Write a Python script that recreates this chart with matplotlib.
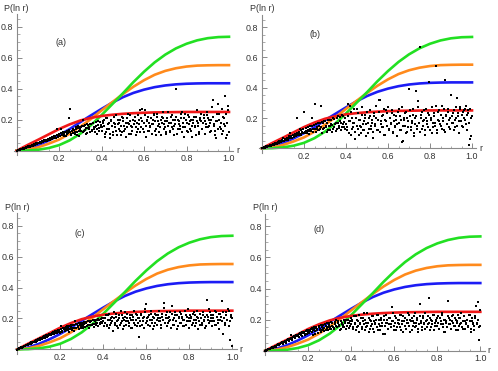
import matplotlib
matplotlib.use("Agg")
import matplotlib.pyplot as plt
from matplotlib.ticker import MultipleLocator

plt.rcParams["font.family"] = ["Liberation Sans", "DejaVu Sans"]

# ---- theoretical curves ----
r_curve = [0.00, 0.05, 0.10, 0.15, 0.20, 0.25, 0.30, 0.35, 0.40, 0.45, 0.50,
           0.55, 0.60, 0.65, 0.70, 0.75, 0.80, 0.85, 0.90, 0.95, 1.00]
red_curve = [0.0, 0.036, 0.070, 0.105, 0.140, 0.170, 0.195, 0.212, 0.224, 0.232, 0.238,
             0.242, 0.245, 0.247, 0.248, 0.249, 0.250, 0.250, 0.250, 0.250, 0.250]
blue_curve = [0.0, 0.012, 0.035, 0.065, 0.100, 0.140, 0.185, 0.228, 0.270, 0.310, 0.345,
              0.373, 0.394, 0.410, 0.421, 0.428, 0.432, 0.434, 0.435, 0.435, 0.435]
orange_curve = [0.0, 0.006, 0.022, 0.045, 0.072, 0.110, 0.155, 0.205, 0.260, 0.313, 0.365,
                0.413, 0.455, 0.490, 0.515, 0.532, 0.543, 0.549, 0.551, 0.552, 0.552]
green_curve = [0.0, 0.001, 0.006, 0.017, 0.036, 0.067, 0.110, 0.165, 0.230, 0.300, 0.370,
               0.443, 0.510, 0.570, 0.620, 0.660, 0.690, 0.712, 0.726, 0.733, 0.735]

# ---- scatter positions ----
band_x = [0.000, 0.005, 0.010, 0.015, 0.020, 0.025, 0.030, 0.035, 0.040, 0.045,
          0.050, 0.055, 0.060, 0.065, 0.070, 0.075, 0.080, 0.085, 0.090, 0.095,
          0.100, 0.105, 0.110, 0.115, 0.120, 0.125, 0.130, 0.135, 0.140, 0.145,
          0.150, 0.155, 0.160, 0.165, 0.170, 0.175, 0.180, 0.185, 0.190, 0.195,
          0.200, 0.205, 0.210, 0.215, 0.220, 0.225, 0.230, 0.235, 0.240, 0.245,
          0.250, 0.255, 0.260, 0.265, 0.270, 0.275, 0.280, 0.285, 0.290, 0.295,
          0.300, 0.305, 0.310, 0.315, 0.320, 0.325, 0.330, 0.335, 0.340, 0.345,
          0.350, 0.355, 0.360, 0.365, 0.370, 0.375, 0.380, 0.385, 0.390, 0.395]
band2_x = [0.0025, 0.0075, 0.0125, 0.0175, 0.0225, 0.0275, 0.0325, 0.0375, 0.0425, 0.0475,
           0.0525, 0.0575, 0.0625, 0.0675, 0.0725, 0.0775, 0.0825, 0.0875, 0.0925, 0.0975,
           0.1025, 0.1075, 0.1125, 0.1175, 0.1225, 0.1275, 0.1325, 0.1375, 0.1425, 0.1475,
           0.1525, 0.1575, 0.1625, 0.1675, 0.1725, 0.1775, 0.1825, 0.1875, 0.1925, 0.1975,
           0.2025, 0.2075, 0.2125, 0.2175, 0.2225, 0.2275, 0.2325, 0.2375, 0.2425, 0.2475,
           0.2525, 0.2575, 0.2625, 0.2675, 0.2725, 0.2775, 0.2825, 0.2875, 0.2925, 0.2975,
           0.3025, 0.3075, 0.3125, 0.3175, 0.3225, 0.3275, 0.3325, 0.3375, 0.3425, 0.3475,
           0.3525, 0.3575, 0.3625, 0.3675, 0.3725, 0.3775, 0.3825, 0.3875, 0.3925, 0.3975]
cloud_x = [0.400, 0.405, 0.410, 0.415, 0.420, 0.425, 0.430, 0.435, 0.440, 0.445,
           0.450, 0.455, 0.460, 0.465, 0.470, 0.475, 0.480, 0.485, 0.490, 0.495,
           0.500, 0.505, 0.510, 0.515, 0.520, 0.525, 0.530, 0.535, 0.540, 0.545,
           0.550, 0.555, 0.560, 0.565, 0.570, 0.575, 0.580, 0.585, 0.590, 0.595,
           0.600, 0.605, 0.610, 0.615, 0.620, 0.625, 0.630, 0.635, 0.640, 0.645,
           0.650, 0.655, 0.660, 0.665, 0.670, 0.675, 0.680, 0.685, 0.690, 0.695,
           0.700, 0.705, 0.710, 0.715, 0.720, 0.725, 0.730, 0.735, 0.740, 0.745,
           0.750, 0.755, 0.760, 0.765, 0.770, 0.775, 0.780, 0.785, 0.790, 0.795,
           0.800, 0.805, 0.810, 0.815, 0.820, 0.825, 0.830, 0.835, 0.840, 0.845,
           0.850, 0.855, 0.860, 0.865, 0.870, 0.875, 0.880, 0.885, 0.890, 0.895,
           0.900, 0.905, 0.910, 0.915, 0.920, 0.925, 0.930, 0.935, 0.940, 0.945,
           0.950, 0.955, 0.960, 0.965, 0.970, 0.975, 0.980, 0.985, 0.990, 0.995,
           1.000]
cloud2_x = [0.4025, 0.4075, 0.4125, 0.4175, 0.4225, 0.4275, 0.4325, 0.4375, 0.4425, 0.4475,
            0.4525, 0.4575, 0.4625, 0.4675, 0.4725, 0.4775, 0.4825, 0.4875, 0.4925, 0.4975,
            0.5025, 0.5075, 0.5125, 0.5175, 0.5225, 0.5275, 0.5325, 0.5375, 0.5425, 0.5475,
            0.5525, 0.5575, 0.5625, 0.5675, 0.5725, 0.5775, 0.5825, 0.5875, 0.5925, 0.5975,
            0.6025, 0.6075, 0.6125, 0.6175, 0.6225, 0.6275, 0.6325, 0.6375, 0.6425, 0.6475,
            0.6525, 0.6575, 0.6625, 0.6675, 0.6725, 0.6775, 0.6825, 0.6875, 0.6925, 0.6975,
            0.7025, 0.7075, 0.7125, 0.7175, 0.7225, 0.7275, 0.7325, 0.7375, 0.7425, 0.7475,
            0.7525, 0.7575, 0.7625, 0.7675, 0.7725, 0.7775, 0.7825, 0.7875, 0.7925, 0.7975,
            0.8025, 0.8075, 0.8125, 0.8175, 0.8225, 0.8275, 0.8325, 0.8375, 0.8425, 0.8475,
            0.8525, 0.8575, 0.8625, 0.8675, 0.8725, 0.8775, 0.8825, 0.8875, 0.8925, 0.8975,
            0.9025, 0.9075, 0.9125, 0.9175, 0.9225, 0.9275, 0.9325, 0.9375, 0.9425, 0.9475,
            0.9525, 0.9575, 0.9625, 0.9675, 0.9725, 0.9775, 0.9825, 0.9875, 0.9925, 0.9975]

# ---- panel (a) ----
a_band_y = [-0.005, 0.002, 0.006, 0.005, 0.010, 0.012, 0.016, 0.013, 0.020, 0.024,
            0.022, 0.028, 0.030, 0.027, 0.035, 0.033, 0.040, 0.037, 0.045, 0.042,
            0.050, 0.047, 0.056, 0.052, 0.060, 0.058, 0.066, 0.061, 0.070, 0.064,
            0.078, 0.070, 0.082, 0.075, 0.088, 0.080, 0.095, 0.085, 0.140, 0.090,
            0.100, 0.093, 0.140, 0.100, 0.112, 0.098, 0.118, 0.105, 0.125, 0.210,
            0.270, 0.110, 0.130, 0.115, 0.135, 0.120, 0.150, 0.100, 0.160, 0.125,
            0.140, 0.155, 0.200, 0.130, 0.165, 0.110, 0.170, 0.145, 0.150, 0.120,
            0.175, 0.135, 0.180, 0.140, 0.155, 0.160, 0.105, 0.190, 0.145, 0.165]
a_band2_y = [0.000, 0.004, 0.003, 0.009, 0.011, 0.015, 0.012, 0.019, 0.017, 0.023,
             0.026, 0.021, 0.031, 0.029, 0.036, 0.032, 0.041, 0.038, 0.047, 0.043,
             0.049, 0.054, 0.050, 0.060, 0.056, 0.065, 0.060, 0.072, 0.067, 0.075,
             0.072, 0.083, 0.076, 0.090, 0.082, 0.098, 0.088, 0.104, 0.094, 0.108,
             0.096, 0.112, 0.102, 0.118, 0.106, 0.122, 0.094, 0.128, 0.112, 0.132,
             0.118, 0.104, 0.126, 0.138, 0.110, 0.142, 0.122, 0.148, 0.098, 0.152,
             0.125, 0.158, 0.118, 0.162, 0.134, 0.146, 0.112, 0.168, 0.138, 0.172,
             0.128, 0.176, 0.150, 0.118, 0.182, 0.142, 0.165, 0.125, 0.188, 0.152]
a_cloud_y = [.15, .18, .20, .11, .12, .21, .17, .14, .08, .19,
             .16, .10, .22, .17, .13, .20, .18, .13, .10, .22,
             .19, .16, .14, .09, .21, .18, .17, .23, .11, .15,
             .20, .19, .15, .12, .23, .17, .12, .21, .27, .14,
             .18, .26, .09, .19, .22, .13, .16, .17, .20, .23,
             .13, .10, .24, .19, .17, .15, .10, .22, .21, .17,
             .15, .12, .19, .25, .12, .18, .23, .14, .16, .20,
             .40, .11, .20, .17, .14, .21, .25, .15, .09, .24,
             .18, .12, .22, .19, .13, .16, .20, .22, .16, .10,
             .26, .18, .11, .21, .19, .14, .23, .19, .15, .25,
             .21, .16, .12, .20, .28, .33, .17, .13, .08, .19,
             .30, .24, .14, .11, .22, .17, .35, .08, .18, .26,
             .12]
a_cloud2_y = [.13, .19, .16, .09, .21, .14, .18, .11, .20, .16,
              .12, .18, .15, .23, .10, .17, .14, .20, .16, .12,
              .21, .13, .18, .15, .24, .11, .19, .16, .13, .20,
              .17, .22, .10, .18, .14, .20, .26, .15, .19, .12,
              .23, .16, .20, .13, .18, .15, .21, .11, .17, .24,
              .19, .14, .22, .16, .12, .20, .18, .25, .14, .19,
              .11, .21, .16, .18, .13, .22, .15, .20, .10, .17,
              .22, .14, .19, .16, .24, .12, .18, .21, .15, .20,
              .13, .23, .17, .14, .20, .09, .18, .15, .22, .19,
              .16, .12, .20, .24, .14, .18, .21, .11, .17, .23,
              .15, .20, .18, .13, .22, .16, .10, .19, .24, .14,
              .20, .15, .18, .27, .13, .21, .16, .24, .10, .29]

# ---- panel (b) ----
b_band_y = [0.000, 0.004, 0.008, 0.006, 0.012, 0.010, 0.018, 0.015, 0.022, 0.019,
            0.028, 0.024, 0.032, 0.030, 0.038, 0.034, 0.045, 0.040, 0.050, 0.046,
            0.070, 0.050, 0.058, 0.055, 0.065, 0.060, 0.080, 0.066, 0.075, 0.070,
            0.085, 0.078, 0.092, 0.200, 0.095, 0.085, 0.130, 0.090, 0.105, 0.098,
            0.240, 0.100, 0.115, 0.108, 0.120, 0.095, 0.130, 0.112, 0.200, 0.125,
            0.290, 0.110, 0.140, 0.120, 0.150, 0.130, 0.280, 0.100, 0.165, 0.135,
            0.180, 0.140, 0.170, 0.120, 0.190, 0.150, 0.160, 0.110, 0.200, 0.140,
            0.170, 0.130, 0.210, 0.150, 0.180, 0.120, 0.220, 0.160, 0.140, 0.200]
b_band2_y = [0.002, 0.006, 0.004, 0.011, 0.009, 0.016, 0.013, 0.021, 0.017, 0.025,
             0.022, 0.030, 0.027, 0.036, 0.031, 0.042, 0.037, 0.048, 0.043, 0.054,
             0.048, 0.060, 0.053, 0.068, 0.058, 0.074, 0.100, 0.080, 0.068, 0.088,
             0.074, 0.095, 0.082, 0.102, 0.088, 0.110, 0.094, 0.118, 0.100, 0.125,
             0.106, 0.132, 0.098, 0.138, 0.115, 0.145, 0.120, 0.150, 0.108, 0.155,
             0.125, 0.160, 0.130, 0.165, 0.118, 0.170, 0.140, 0.175, 0.128, 0.180,
             0.145, 0.105, 0.185, 0.150, 0.120, 0.190, 0.155, 0.130, 0.195, 0.160,
             0.115, 0.200, 0.165, 0.135, 0.205, 0.170, 0.140, 0.210, 0.175, 0.125]
b_cloud_y = [.16, .12, .29, .18, .28, .09, .20, .14, .17, .06,
             .26, .13, .19, .15, .10, .22, .16, .12, .20, .08,
             .24, .17, .13, .21, .15, .19, .11, .23, .16, .20,
             .12, .32, .32, .18, .14, .22, .09, .19, .25, .15,
             .27, .12, .20, .17, .23, .10, .18, .14, .21, .16,
             .26, .12, .19, .04, .05, .20, .15, .24, .11, .18,
             .39, .21, .14, .17, .26, .10, .20, .38, .15, .31,
             .67, .22, .13, .18, .25, .09, .20, .16, .23, .44,
             .12, .19, .27, .14, .21, .17, .54, .10, .24, .18,
             .15, .28, .20, .12, .45, .22, .16, .26, .19, .13,
             .35, .21, .17, .25, .14, .20, .33, .23, .18, .27,
             .15, .24, .20, .26, .16, .22, .25, .02, .06, .08,
             .21]
b_cloud2_y = [.14, .21, .10, .18, .24, .13, .17, .26, .11, .20,
              .15, .23, .09, .19, .14, .27, .12, .18, .22, .16,
              .10, .20, .25, .13, .17, .07, .21, .15, .28, .12,
              .19, .24, .11, .16, .21, .14, .26, .09, .18, .23,
              .13, .20, .16, .25, .11, .22, .15, .19, .08, .24,
              .17, .21, .12, .27, .15, .19, .23, .10, .20, .14,
              .25, .12, .18, .22, .08, .16, .21, .13, .27, .17,
              .11, .20, .24, .15, .19, .12, .26, .18, .14, .22,
              .20, .10, .17, .23, .15, .28, .12, .19, .25, .16,
              .22, .13, .18, .26, .11, .21, .16, .24, .14, .20,
              .17, .23, .12, .19, .27, .15, .21, .10, .26, .18,
              .22, .14, .25, .19, .28, .12, .23, .17, .26, .20]

# ---- panel (c) ----
c_band_y = [-0.005, 0.003, 0.008, 0.010, 0.015, 0.013, 0.020, 0.024, 0.028, 0.025,
            0.035, 0.032, 0.040, 0.045, 0.042, 0.050, 0.055, 0.048, 0.060, 0.065,
            0.058, 0.070, 0.075, 0.068, 0.080, 0.085, 0.076, 0.090, 0.095, 0.084,
            0.100, 0.092, 0.105, 0.110, 0.098, 0.115, 0.108, 0.120, 0.112, 0.125,
            0.105, 0.150, 0.118, 0.130, 0.120, 0.135, 0.125, 0.140, 0.115, 0.130,
            0.145, 0.125, 0.140, 0.120, 0.185, 0.135, 0.150, 0.130, 0.160, 0.140,
            0.155, 0.135, 0.165, 0.145, 0.170, 0.150, 0.160, 0.140, 0.175, 0.155,
            0.165, 0.145, 0.180, 0.160, 0.170, 0.150, 0.190, 0.165, 0.175, 0.200]
c_band2_y = [0.000, 0.005, 0.007, 0.012, 0.011, 0.017, 0.019, 0.022, 0.026, 0.030,
             0.032, 0.038, 0.036, 0.043, 0.047, 0.045, 0.052, 0.057, 0.054, 0.062,
             0.066, 0.062, 0.072, 0.078, 0.074, 0.082, 0.088, 0.080, 0.092, 0.098,
             0.090, 0.102, 0.108, 0.096, 0.112, 0.118, 0.104, 0.122, 0.128, 0.110,
             0.130, 0.112, 0.135, 0.140, 0.122, 0.142, 0.148, 0.128, 0.150, 0.155,
             0.132, 0.155, 0.160, 0.138, 0.162, 0.165, 0.142, 0.168, 0.170, 0.145,
             0.170, 0.148, 0.175, 0.178, 0.152, 0.180, 0.158, 0.182, 0.185, 0.160,
             0.188, 0.162, 0.190, 0.168, 0.192, 0.195, 0.170, 0.198, 0.172, 0.185]
c_cloud_y = [.18, .15, .20, .16, .22, .14, .19, .17, .21, .12,
             .20, .16, .23, .18, .14, .20, .17, .22, .13, .19,
             .24, .16, .20, .18, .15, .22, .19, .14, .21, .17,
             .23, .15, .20, .08, .18, .22, .16, .20, .14, .24,
             .29, .18, .21, .15, .23, .19, .13, .20, .17, .22,
             .16, .20, .25, .18, .14, .21, .30, .17, .22, .15,
             .20, .18, .24, .14, .28, .19, .16, .22, .18, .13,
             .21, .17, .23, .20, .15, .19, .25, .16, .21, .18,
             .14, .22, .20, .17, .24, .15, .19, .21, .13, .18,
             .23, .20, .16, .22, .19, .14, .32, .21, .17, .24,
             .20, .15, .22, .18, .25, .16, .21, .19, .13, .23,
             .31, .10, .20, .17, .24, .19, .26, .15, .06, .22,
             .02]
c_cloud2_y = [.20, .17, .22, .15, .19, .23, .16, .20, .18, .24,
              .17, .21, .15, .19, .22, .16, .25, .18, .20, .15,
              .21, .18, .23, .17, .20, .14, .22, .19, .25, .16,
              .19, .22, .17, .20, .15, .23, .18, .21, .26, .17,
              .20, .16, .22, .19, .25, .17, .21, .15, .23, .19,
              .22, .18, .20, .16, .23, .19, .27, .17, .20, .24,
              .17, .21, .19, .23, .16, .20, .24, .18, .22, .15,
              .20, .24, .17, .21, .19, .15, .22, .18, .26, .20,
              .18, .21, .16, .23, .19, .22, .17, .25, .20, .16,
              .20, .17, .24, .18, .21, .15, .22, .19, .26, .18,
              .22, .18, .20, .16, .24, .21, .17, .23, .19, .21,
              .18, .24, .20, .16, .22, .19, .25, .18, .21, .20]

# ---- panel (d) ----
d_band_y = [-0.004, 0.002, 0.007, 0.012, 0.010, 0.018, 0.022, 0.019, 0.027, 0.030,
            0.026, 0.036, 0.040, 0.034, 0.046, 0.050, 0.044, 0.056, 0.060, 0.052,
            0.066, 0.070, 0.062, 0.078, 0.100, 0.072, 0.085, 0.090, 0.080, 0.095,
            0.100, 0.088, 0.105, 0.110, 0.096, 0.115, 0.120, 0.104, 0.125, 0.110,
            0.130, 0.115, 0.135, 0.120, 0.100, 0.140, 0.125, 0.145, 0.130, 0.115,
            0.150, 0.135, 0.120, 0.155, 0.140, 0.125, 0.160, 0.145, 0.130, 0.165,
            0.150, 0.140, 0.180, 0.155, 0.140, 0.170, 0.200, 0.150, 0.175, 0.160,
            0.140, 0.180, 0.165, 0.150, 0.185, 0.200, 0.160, 0.175, 0.145, 0.190]
d_band2_y = [0.001, 0.005, 0.009, 0.008, 0.014, 0.016, 0.020, 0.025, 0.024, 0.032,
             0.034, 0.039, 0.043, 0.041, 0.048, 0.054, 0.052, 0.058, 0.064, 0.062,
             0.068, 0.074, 0.072, 0.082, 0.078, 0.088, 0.094, 0.086, 0.098, 0.104,
             0.094, 0.108, 0.112, 0.102, 0.118, 0.122, 0.110, 0.128, 0.132, 0.118,
             0.135, 0.124, 0.140, 0.145, 0.130, 0.150, 0.110, 0.155, 0.138, 0.160,
             0.142, 0.165, 0.130, 0.168, 0.148, 0.172, 0.135, 0.175, 0.152, 0.180,
             0.138, 0.182, 0.158, 0.145, 0.185, 0.162, 0.150, 0.190, 0.168, 0.130,
             0.192, 0.170, 0.155, 0.195, 0.175, 0.140, 0.200, 0.178, 0.160, 0.210]
d_cloud_y = [.17, .20, .14, .18, .22, .15, .19, .12, .17, .21,
             .15, .19, .24, .13, .18, .16, .21, .14, .19, .17,
             .22, .12, .18, .20, .15, .23, .17, .13, .20, .16,
             .22, .11, .18, .20, .14, .17, .21, .15, .28, .19,
             .16, .22, .13, .18, .20, .15, .23, .17, .12, .19,
             .21, .14, .18, .24, .16, .20, .13, .19, .22, .15,
             .18, .21, .12, .17, .30, .19, .15, .22, .18, .14,
             .20, .17, .34, .21, .15, .19, .23, .13, .18, .20,
             .16, .22, .14, .19, .24, .17, .12, .20, .18, .15,
             .32, .21, .17, .14, .19, .23, .16, .20, .18, .13,
             .21, .17, .24, .15, .19, .22, .14, .18, .20, .16,
             .23, .12, .19, .17, .13, .21, .29, .18, .31, .07,
             .16]
d_cloud2_y = [.19, .15, .22, .17, .13, .20, .16, .23, .18, .14,
              .21, .17, .20, .15, .24, .18, .12, .20, .16, .22,
              .14, .19, .17, .23, .13, .20, .16, .21, .18, .11,
              .20, .16, .23, .18, .14, .21, .17, .19, .24, .13,
              .18, .21, .15, .20, .17, .23, .13, .19, .22, .16,
              .14, .20, .18, .23, .12, .19, .21, .16, .18, .24,
              .16, .20, .14, .22, .18, .13, .21, .17, .24, .19,
              .15, .22, .18, .13, .20, .17, .23, .16, .19, .21,
              .18, .14, .21, .17, .23, .15, .20, .12, .19, .22,
              .17, .20, .14, .22, .18, .16, .21, .13, .19, .23,
              .16, .21, .18, .14, .22, .19, .17, .20, .15, .23,
              .19, .14, .21, .18, .16, .22, .17, .20, .15, .26]

panel_labels = ["(a)", "(b)", "(c)", "(d)"]
x_ticks = [0.2, 0.4, 0.6, 0.8, 1.0]
y_ticks = [0.2, 0.4, 0.6, 0.8]

panels = [
    (a_band_y, a_band2_y, a_cloud_y, a_cloud2_y),
    (b_band_y, b_band2_y, b_cloud_y, b_cloud2_y),
    (c_band_y, c_band2_y, c_cloud_y, c_cloud2_y),
    (d_band_y, d_band2_y, d_cloud_y, d_cloud2_y),
]
for p in panels:
    assert len(p[0]) == len(band_x), len(p[0])
    assert len(p[1]) == len(band2_x), len(p[1])
    assert len(p[2]) == len(cloud_x), len(p[2])
    assert len(p[3]) == len(cloud2_x), len(p[3])

W, H = 498, 371
fig = plt.figure(figsize=(W / 100, H / 100), dpi=100)

# pixel geometry: x0 (r=0), px per unit r, y0 (P=0 from top), px per unit P
geom = [(16.7, 212.3, 150.7, 155.0),
        (262.0, 210.0, 148.3, 151.5),
        (17.3, 215.0, 349.3, 154.5),
        (265.3, 215.0, 350.7, 155.5)]
label_pos = [(0.21, 0.70), (0.25, 0.75), (0.29, 0.75), (0.25, 0.78)]
XMIN, XMAX = -0.012, 1.02
YMIN, YMAX = -0.03, 0.88

axis_col = "#8a8a8a"
text_col = "#333333"
ms = 1.6

for i, (g, (by, by2, cy, cy2)) in enumerate(zip(geom, panels)):
    x0, sx, y0, sy = g
    left = (x0 + XMIN * sx) / W
    width = (XMAX - XMIN) * sx / W
    bottom = (H - (y0 - YMIN * sy)) / H
    height = (YMAX - YMIN) * sy / H
    ax = fig.add_axes([left, bottom, width, height])
    ax.set_xlim(XMIN, XMAX)
    ax.set_ylim(YMIN, YMAX)
    ax.patch.set_alpha(0)
    for s in ("top", "right"):
        ax.spines[s].set_visible(False)
    ax.spines["left"].set_position(("data", 0))
    ax.spines["bottom"].set_position(("data", 0))
    for s in ("left", "bottom"):
        ax.spines[s].set_color(axis_col)
        ax.spines[s].set_linewidth(0.8)
    ax.set_xticks(x_ticks)
    ax.set_yticks(y_ticks)
    ax.set_xticklabels(["%.1f" % t for t in x_ticks])
    ax.set_yticklabels(["%.1f" % t for t in y_ticks])
    ax.xaxis.set_minor_locator(MultipleLocator(0.05))
    ax.yaxis.set_minor_locator(MultipleLocator(0.05))
    ax.tick_params(which="major", direction="in", length=3.5, width=0.7,
                   color=axis_col, labelsize=6.4, labelcolor=text_col, pad=2.5)
    ax.tick_params(which="minor", direction="in", length=1.8, width=0.5,
                   color=axis_col)

    ax.plot(r_curve, blue_curve, color="#1c1cf5", lw=1.9, zorder=2)
    ax.plot(r_curve, orange_curve, color="#ff8a1c", lw=1.9, zorder=2)
    ax.plot(r_curve, green_curve, color="#22e022", lw=1.9, zorder=2)
    ax.plot(r_curve, red_curve, color="#f01818", lw=1.9, zorder=2)

    for xs, ys in ((band_x, by), (band2_x, by2), (cloud_x, cy), (cloud2_x, cy2)):
        ax.plot(xs, ys, linestyle="none", marker="s", markersize=ms,
                color="black", markeredgewidth=0, zorder=3, clip_on=False)

    ax.text(0, YMAX + 0.01, "P(ln r)", ha="center", va="bottom", fontsize=6.5,
            color=text_col, clip_on=False)
    ax.text(XMAX + 0.015, 0, "r", ha="left", va="center", fontsize=6.5,
            color=text_col, clip_on=False)
    lx, ly = label_pos[i]
    ax.text(lx, ly, panel_labels[i], ha="center", va="center", fontsize=6.5,
            color=text_col)

fig.savefig("out.png", dpi=100)
